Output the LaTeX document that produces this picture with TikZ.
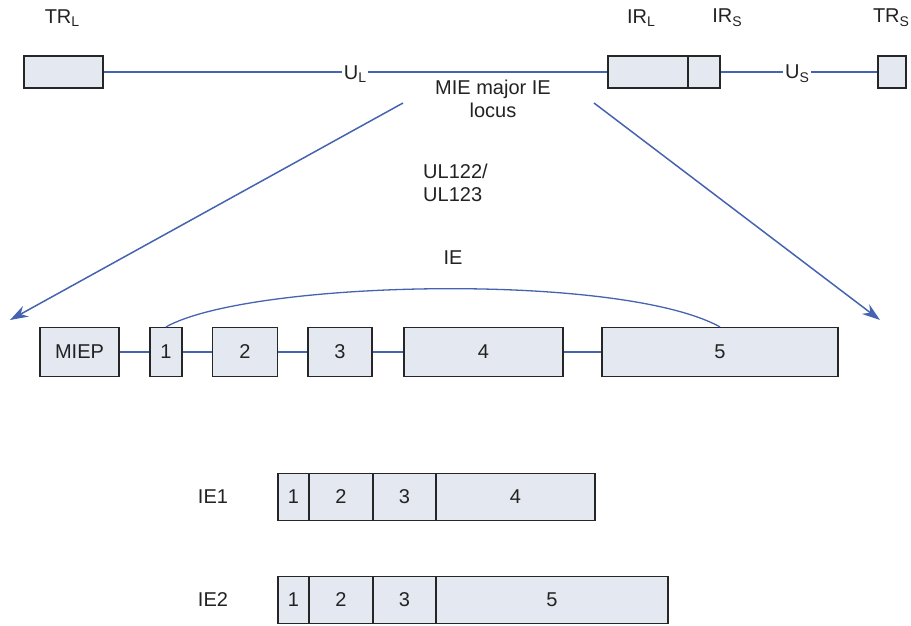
\documentclass[tikz,border=0pt]{standalone}
\usepackage{fontspec}
\setmainfont{Liberation Sans}
\usetikzlibrary{arrows.meta}
\definecolor{boxfill}{HTML}{E4E8F1}
\definecolor{bline}{HTML}{4563B0}
\definecolor{txt}{HTML}{222222}
\newcommand\mysub[1]{\raisebox{-0.35ex}{\fontsize{14}{14}\selectfont #1}}
\tikzset{
  box/.style={draw=black!85, fill=boxfill, line width=1.2pt, inner sep=0pt, text=txt},
  lbl/.style={text=txt, inner sep=2pt},
  conn/.style={draw=bline, line width=1.1pt},
  bigarrow/.style={draw=bline, line width=1.5pt, -{Stealth[length=18pt,width=12pt]}},
}
\begin{document}
\begin{tikzpicture}[x=1pt,y=-1pt,font=\fontsize{20}{23}\selectfont]
\useasboundingbox (0,0) rectangle (911,625);
% top genome line
\node[box, minimum width=79pt, minimum height=32pt] (trl) at (63.5,72) {};
\node[box, minimum width=80pt, minimum height=32pt] (irl) at (648,72) {};
\node[box, minimum width=32pt, minimum height=32pt] (irs) at (704,72) {};
\node[box, minimum width=28pt, minimum height=32pt] (trs) at (892,72) {};
\node[lbl] (ul) at (355,74) {U\mysub{L}};
\node[lbl] (us) at (797,74) {U\mysub{S}};
\draw[conn] (trl.east) -- (trl.east -| ul.west);
\draw[conn] (irl.west -| ul.east) -- (irl.west);
\draw[conn] (irs.east) -- (irs.east -| us.west);
\draw[conn] (trs.west -| us.east) -- (trs.west);
\node[lbl] (ltrl) at (62,18) {TR\mysub{L}};
\node[lbl] (lirl) at (641,18) {IR\mysub{L}};
\node[lbl] (lirs) at (727,18) {IR\mysub{S}};
\node[lbl] (ltrs) at (891,18) {TR\mysub{S}};
\node[lbl, align=center] (mie) at (493,99) {MIE major IE\\locus};
\node[lbl, align=left, anchor=west] (ul122) at (421,183) {UL122/\\UL123};
% expansion arrows
\coordinate (a1s) at (403,103);
\coordinate (a1e) at (10,320);
\coordinate (a2s) at (594,103);
\coordinate (a2e) at (880,320);
\draw[bigarrow] (a1s) -- (a1e);
\draw[bigarrow] (a2s) -- (a2e);
% exon row
\node[box, minimum width=79pt, minimum height=49pt] (miep) at (79.5,352) {MIEP};
\node[box, minimum width=32pt, minimum height=49pt] (e1) at (166,352) {1};
\node[box, minimum width=65pt, minimum height=49pt] (e2) at (245,352) {2};
\node[box, minimum width=64pt, minimum height=49pt] (e3) at (340,352) {3};
\node[box, minimum width=159pt, minimum height=49pt] (e4) at (483.5,352) {4};
\node[box, minimum width=236pt, minimum height=49pt] (e5) at (720,352) {5};
\draw[conn] (miep.east) -- (e1.west);
\draw[conn] (e1.east) -- (e2.west);
\draw[conn] (e2.east) -- (e3.west);
\draw[conn] (e3.east) -- (e4.west);
\draw[conn] (e4.east) -- (e5.west);
\draw[conn, line width=1.3pt] (e1.north) .. controls (250,280) and (620,272) .. (e5.north);
\node[lbl] (ie) at (453,258) {IE};
% spliced products
\node[lbl] (ie1) at (213,497) {IE1};
\node[box, minimum width=31pt, minimum height=47pt] (a1) at (293.5,497) {1};
\node[box, minimum width=64pt, minimum height=47pt] (a2) at (341,497) {2};
\node[box, minimum width=63pt, minimum height=47pt] (a3) at (404.5,497) {3};
\node[box, minimum width=159pt, minimum height=47pt] (a4) at (515.5,497) {4};
\node[lbl] (ie2) at (213,600) {IE2};
\node[box, minimum width=31pt, minimum height=47pt] (b1) at (293.5,600) {1};
\node[box, minimum width=64pt, minimum height=47pt] (b2) at (341,600) {2};
\node[box, minimum width=63pt, minimum height=47pt] (b3) at (404.5,600) {3};
\node[box, minimum width=232pt, minimum height=47pt] (b5) at (552,600) {5};
\end{tikzpicture}
\end{document}
